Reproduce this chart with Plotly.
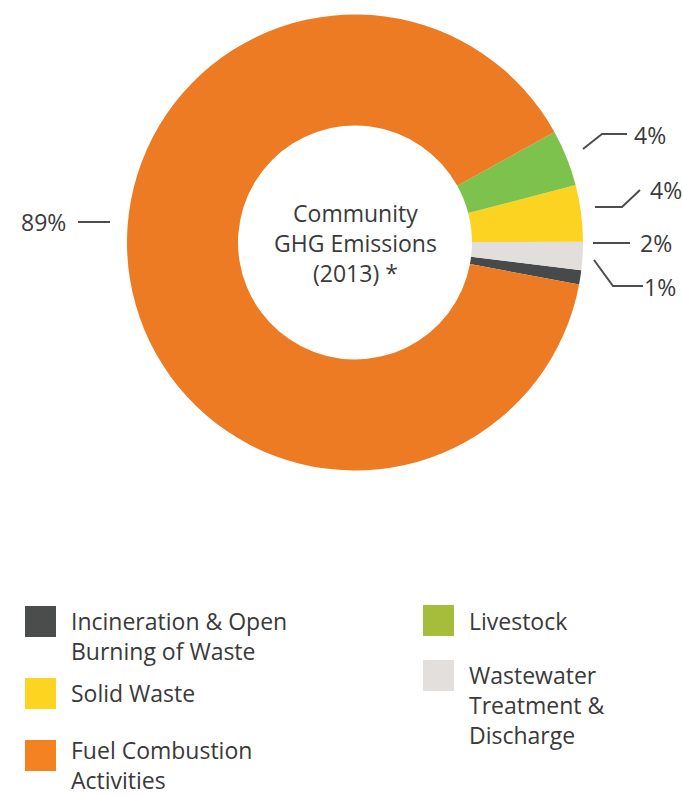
import plotly.graph_objects as go

# Community GHG emissions (2013) by source, percent of total
categories = [
    "Incineration & Open Burning of Waste",
    "Wastewater Treatment & Discharge",
    "Solid Waste",
    "Livestock",
    "Fuel Combustion Activities",
]
shares = [1, 2, 4, 4, 89]
legend_labels = [
    "Incineration & Open<br>Burning of Waste",
    "Wastewater<br>Treatment &<br>Discharge",
    "Solid Waste",
    "Livestock",
    "Fuel Combustion<br>Activities",
]
center_title = "Community<br>GHG Emissions<br>(2013) *"
slice_colors = ["#474a4a", "#e2dedb", "#fdd321", "#7cc24c", "#ed7b23"]
swatch_colors = ["#4b4d4d", "#e3dfdd", "#fdd520", "#a5bd3a", "#f58220"]

W, H = 682, 796
TEXT = "#3a3a3a"
LINE = "#4d4d4d"
FONT = "Open Sans"


def px(x):
    return x / W


def py(y):
    return 1 - y / H


fig = go.Figure(
    go.Pie(
        labels=categories,
        values=shares,
        sort=False,
        direction="counterclockwise",
        rotation=97,
        hole=0.513,
        marker=dict(colors=slice_colors, line=dict(width=0)),
        textinfo="none",
        hoverinfo="label+percent",
        showlegend=False,
        domain=dict(x=[px(127), px(583)], y=[py(470.5), py(14.5)]),
    )
)

# Percentage callouts: leader polyline (pixel points) and text anchor
callouts = [
    dict(pts=[(594, 260), (613, 286), (643, 286)], tx=643, ty=287, anchor="left"),
    dict(pts=[(593, 243), (630, 243)], tx=639, ty=243, anchor="left"),
    dict(pts=[(595, 207), (622, 207), (640, 190)], tx=649, ty=190, anchor="left"),
    dict(pts=[(583, 149), (602, 134), (627, 134)], tx=633, ty=135, anchor="left"),
    dict(pts=[(78, 222), (110, 222)], tx=67, ty=222, anchor="right"),
]

shapes = []
annotations = []


def add_text(x, y, text, anchor="left", size=23, align="left"):
    annotations.append(dict(x=px(x), y=py(y), xref="paper", yref="paper",
                            text=text, showarrow=False, xanchor=anchor,
                            yanchor="middle", align=align, borderpad=0,
                            font=dict(family=FONT, size=size, color=TEXT)))


for lab, c in zip([f"{v}%" for v in shares], callouts):
    path = "M " + " L ".join(f"{px(x):.5f},{py(y):.5f}" for x, y in c["pts"])
    shapes.append(dict(type="path", xref="paper", yref="paper", path=path,
                       line=dict(color=LINE, width=2)))
    add_text(c["tx"], c["ty"], lab, c["anchor"])

# Centre title
add_text(355, 243, center_title, "center", align="center")

# Two-column legend: (swatch left x, swatch top y, text block centre y)
legend_pos = [
    (25, 606, 636),   # Incineration
    (423, 660, 705),  # Wastewater
    (25, 678, 693),   # Solid Waste
    (423, 605, 621),  # Livestock
    (25, 740, 765),   # Fuel Combustion
]
SW = 31
for lab, col, (sx, sy, ty) in zip(legend_labels, swatch_colors, legend_pos):
    shapes.append(dict(type="rect", xref="paper", yref="paper",
                       x0=px(sx), x1=px(sx + SW), y0=py(sy + SW), y1=py(sy),
                       fillcolor=col, line=dict(width=0)))
    add_text(sx + 45, ty, lab, "left")

fig.update_layout(
    width=W,
    height=H,
    margin=dict(l=0, r=0, t=0, b=0),
    paper_bgcolor="white",
    plot_bgcolor="white",
    shapes=shapes,
    annotations=annotations,
)

fig.write_html("out.html")
